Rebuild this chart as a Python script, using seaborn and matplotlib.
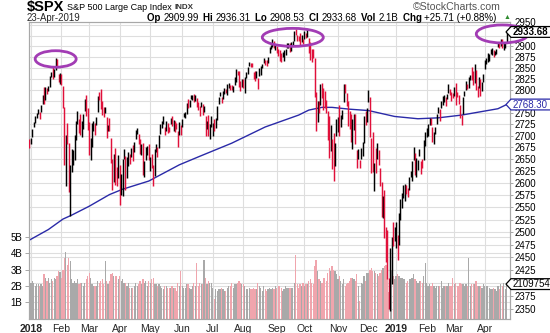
import numpy as np
import pandas as pd
import matplotlib
matplotlib.use("Agg")
import matplotlib.pyplot as plt
import seaborn as sns
from matplotlib.patches import Ellipse, Polygon
from matplotlib.lines import Line2D
from matplotlib.ticker import FixedLocator, NullLocator
import matplotlib.transforms as mtransforms

# ---------------------------------------------------------------- data
# daily sessions 29-Dec-2017 .. 23-Apr-2019, one line per month
closes = [
    2673.61,
    2695.81, 2713.06, 2723.99, 2743.15, 2747.71, 2751.29, 2748.23, 2767.56, 2786.24, 2776.42, 2802.56,
    2798.03, 2810.30, 2832.97, 2839.13, 2837.54, 2839.25, 2872.87, 2853.53, 2822.43, 2823.81,
    2821.98, 2762.13, 2648.94, 2695.14, 2681.66, 2581.00, 2619.55, 2656.00, 2662.94, 2698.63,
    2731.20, 2732.22, 2716.26, 2701.33, 2703.96, 2747.30, 2779.60, 2744.28, 2713.83,
    2677.67, 2691.25, 2720.94, 2728.12, 2726.80, 2738.97, 2786.57, 2783.02, 2765.31, 2749.48, 2747.33,
    2752.01, 2712.92, 2716.94, 2711.93, 2643.69, 2588.26, 2658.55, 2612.62, 2605.00, 2640.87,
    2581.88, 2614.45, 2644.69, 2662.84, 2604.47, 2613.16, 2656.87, 2642.19, 2663.99, 2656.30, 2677.84,
    2706.39, 2708.64, 2693.13, 2670.14, 2670.29, 2634.56, 2639.40, 2666.94, 2669.91, 2648.05,
    2654.80, 2635.67, 2629.73, 2663.42, 2672.63, 2671.92, 2697.79, 2723.07, 2727.72, 2730.13, 2711.45,
    2722.46, 2720.13, 2712.97, 2733.01, 2724.44, 2733.29, 2727.76, 2721.33, 2689.86, 2724.01, 2705.27,
    2734.62, 2746.87, 2748.80, 2772.35, 2770.37, 2779.03, 2782.00, 2786.85, 2775.63, 2782.49, 2779.66,
    2773.75, 2762.59, 2767.32, 2749.76, 2754.88, 2717.07, 2723.06, 2699.63, 2716.31, 2718.37,
    2726.71, 2713.22, 2736.61, 2759.82, 2784.17, 2793.84, 2774.02, 2798.29, 2801.31, 2798.43, 2809.55,
    2815.62, 2804.49, 2801.83, 2806.98, 2820.40, 2846.07, 2837.44, 2818.82, 2802.60, 2816.29,
    2813.36, 2827.22, 2840.35, 2850.40, 2858.45, 2857.70, 2853.58, 2833.28, 2821.93, 2839.96, 2818.37,
    2840.69, 2850.13, 2857.05, 2862.96, 2861.82, 2856.98, 2874.69, 2896.74, 2897.52, 2914.04, 2901.13, 2901.52,
    2896.72, 2888.60, 2878.05, 2871.68, 2877.13, 2887.89, 2888.92, 2904.18, 2904.98, 2888.80,
    2904.31, 2907.95, 2930.75, 2929.67, 2919.37, 2915.56, 2905.97, 2914.00, 2913.98,
    2924.59, 2923.43, 2925.51, 2901.61, 2885.57, 2884.43, 2880.34, 2785.68, 2728.37, 2767.13, 2750.79,
    2809.92, 2809.21, 2768.78, 2767.78, 2755.88, 2740.69, 2656.10, 2705.57, 2658.69, 2641.25, 2682.63, 2711.74,
    2740.37, 2723.06, 2738.31, 2755.45, 2813.89, 2806.83, 2781.01, 2726.22, 2722.18, 2701.58, 2730.20,
    2736.27, 2690.73, 2641.89, 2649.93, 2632.56, 2673.45, 2682.17, 2743.79, 2737.80, 2760.17,
    2790.37, 2700.06, 2695.95, 2633.08, 2637.72, 2636.78, 2651.07, 2650.54, 2599.95, 2545.94,
    2546.16, 2506.96, 2467.42, 2416.62, 2351.10, 2467.70, 2488.83, 2485.74, 2506.85,
    2510.03, 2447.89, 2531.94, 2549.69, 2574.41, 2584.96, 2596.64, 2596.26, 2582.61, 2610.30, 2616.10,
    2635.96, 2670.71, 2632.90, 2638.70, 2642.33, 2664.76, 2643.85, 2640.00, 2681.05, 2704.10,
    2706.53, 2724.87, 2737.70, 2731.61, 2706.05, 2707.88, 2709.80, 2744.73, 2753.03, 2745.73,
    2775.60, 2779.76, 2784.70, 2774.88, 2792.67, 2796.11, 2793.90, 2792.38, 2784.49,
    2803.69, 2792.81, 2789.65, 2771.45, 2748.93, 2743.07, 2783.30, 2791.52, 2810.92, 2808.48, 2822.48,
    2832.94, 2832.57, 2824.23, 2854.88, 2800.71, 2798.36, 2818.46, 2805.37, 2815.44, 2834.40,
    2867.19, 2867.24, 2873.40, 2879.39, 2892.74, 2895.77, 2878.20, 2888.21, 2888.32, 2907.41,
    2905.58, 2907.06, 2900.45, 2905.03, 2907.97, 2933.68,
]

highs = [
    2692.12,
    2695.89, 2714.37, 2729.29, 2743.45, 2748.51, 2759.14, 2750.80, 2767.56, 2789.81, 2807.54, 2807.04,
    2805.83, 2810.33, 2833.03, 2842.24, 2852.97, 2848.56, 2872.87, 2870.62, 2837.75, 2839.26,
    2835.96, 2808.92, 2763.39, 2701.04, 2727.67, 2685.27, 2638.67, 2672.61, 2668.84, 2702.10,
    2731.51, 2754.42, 2737.08, 2747.75, 2731.26, 2747.76, 2780.64, 2789.15, 2761.52,
    2730.89, 2696.25, 2728.09, 2732.08, 2727.92, 2740.45, 2786.57, 2796.98, 2801.90, 2777.11, 2763.03,
    2761.85, 2741.38, 2724.22, 2739.14, 2695.68, 2650.88, 2661.36, 2674.78, 2632.65, 2659.07,
    2638.30, 2619.14, 2649.86, 2672.08, 2656.88, 2653.55, 2665.45, 2661.43, 2674.72, 2680.26, 2686.49,
    2713.34, 2717.49, 2702.84, 2693.94, 2682.86, 2683.55, 2645.30, 2676.48, 2677.35, 2682.92,
    2655.27, 2660.87, 2637.14, 2670.93, 2683.35, 2676.34, 2701.27, 2726.11, 2732.86, 2742.10, 2718.59,
    2731.96, 2728.09, 2719.50, 2739.19, 2742.24, 2733.33, 2731.97, 2727.36, 2710.67, 2729.34, 2722.50,
    2736.93, 2749.16, 2752.61, 2772.39, 2779.90, 2779.39, 2790.21, 2789.80, 2791.47, 2789.06, 2782.81,
    2774.99, 2765.05, 2774.86, 2769.28, 2764.17, 2742.94, 2732.91, 2746.09, 2725.90, 2743.26,
    2727.26, 2736.58, 2737.83, 2764.41, 2784.65, 2795.58, 2785.91, 2799.22, 2804.53, 2803.71, 2814.19,
    2816.76, 2812.05, 2810.85, 2808.61, 2829.99, 2848.03, 2842.43, 2843.17, 2821.74, 2824.46,
    2825.83, 2829.91, 2840.38, 2853.29, 2863.43, 2862.48, 2862.44, 2842.20, 2843.40, 2843.11, 2827.95,
    2850.49, 2855.63, 2859.76, 2873.23, 2867.54, 2868.78, 2876.16, 2898.25, 2903.77, 2916.50, 2912.46, 2906.32,
    2900.18, 2894.21, 2892.52, 2883.81, 2886.93, 2892.11, 2894.65, 2906.76, 2908.30, 2908.86,
    2911.17, 2912.36, 2934.80, 2940.91, 2926.05, 2923.79, 2931.15, 2927.22, 2916.54,
    2937.06, 2931.42, 2939.86, 2919.78, 2909.64, 2894.83, 2894.70, 2874.02, 2795.14, 2775.77, 2775.99,
    2813.46, 2816.94, 2806.04, 2797.77, 2778.94, 2753.59, 2742.59, 2722.70, 2692.38, 2706.85, 2685.43, 2736.69,
    2741.67, 2766.28, 2744.27, 2756.82, 2815.15, 2814.75, 2794.10, 2775.99, 2754.60, 2746.80, 2735.38,
    2746.75, 2746.66, 2669.44, 2670.73, 2647.55, 2674.35, 2685.75, 2744.00, 2753.75, 2760.88,
    2800.18, 2785.93, 2696.15, 2708.54, 2641.59, 2674.35, 2685.44, 2670.19, 2630.86, 2601.13,
    2573.99, 2585.29, 2509.63, 2504.41, 2410.34, 2467.76, 2489.10, 2520.27, 2509.24,
    2519.49, 2493.14, 2538.07, 2566.16, 2579.82, 2595.32, 2597.82, 2596.27, 2589.32, 2613.08, 2625.76,
    2645.06, 2675.47, 2662.88, 2653.19, 2647.20, 2672.38, 2645.19, 2650.93, 2690.44, 2708.95,
    2716.66, 2724.99, 2738.98, 2738.08, 2719.32, 2708.07, 2718.05, 2748.19, 2761.85, 2757.90,
    2775.66, 2787.33, 2789.88, 2785.69, 2792.72, 2813.49, 2803.12, 2795.82, 2793.73,
    2808.02, 2816.88, 2795.76, 2790.28, 2767.66, 2744.13, 2785.00, 2798.32, 2821.24, 2815.00, 2830.73,
    2835.41, 2852.42, 2843.54, 2860.31, 2846.16, 2809.79, 2829.87, 2825.96, 2819.71, 2836.03,
    2869.40, 2872.90, 2885.25, 2881.28, 2893.24, 2895.95, 2892.66, 2889.71, 2893.42, 2910.54,
    2909.60, 2916.06, 2918.00, 2908.40, 2909.51, 2936.31,
]

lows = [
    2673.61,
    2682.36, 2697.77, 2719.07, 2727.92, 2737.60, 2747.86, 2736.06, 2752.78, 2769.64, 2768.64, 2778.38,
    2792.56, 2798.08, 2808.12, 2830.59, 2824.81, 2830.94, 2846.18, 2851.48, 2818.27, 2813.04,
    2812.70, 2759.97, 2638.17, 2593.07, 2681.33, 2580.56, 2532.69, 2622.45, 2637.08, 2648.87,
    2689.82, 2725.11, 2706.76, 2701.29, 2697.77, 2713.74, 2753.78, 2742.10, 2713.54,
    2659.65, 2647.32, 2675.75, 2711.26, 2701.02, 2722.65, 2751.54, 2779.26, 2758.68, 2744.38, 2741.47,
    2749.97, 2694.59, 2710.05, 2709.79, 2641.59, 2585.89, 2601.81, 2596.12, 2593.06, 2609.72,
    2553.80, 2575.49, 2573.61, 2649.58, 2586.27, 2610.79, 2635.78, 2639.25, 2653.83, 2645.05, 2665.16,
    2692.05, 2703.63, 2681.90, 2660.61, 2657.99, 2617.32, 2612.67, 2647.16, 2659.01, 2648.04,
    2625.41, 2631.70, 2594.62, 2615.32, 2664.70, 2655.20, 2674.14, 2704.54, 2717.45, 2725.47, 2701.91,
    2711.36, 2705.27, 2709.18, 2725.70, 2721.88, 2709.54, 2707.38, 2714.99, 2676.81, 2702.47, 2700.68,
    2718.70, 2740.54, 2739.51, 2748.46, 2760.16, 2763.59, 2780.17, 2778.78, 2774.65, 2776.52, 2761.73,
    2757.12, 2743.19, 2763.91, 2744.39, 2752.68, 2698.67, 2715.60, 2699.38, 2692.03, 2718.03,
    2698.95, 2711.16, 2716.02, 2733.52, 2768.51, 2786.24, 2770.77, 2781.53, 2791.69, 2793.39, 2789.24,
    2805.89, 2799.77, 2800.16, 2795.14, 2811.12, 2817.73, 2835.26, 2808.34, 2798.11, 2808.06,
    2805.85, 2792.84, 2827.37, 2835.98, 2855.92, 2853.09, 2852.73, 2825.81, 2819.88, 2826.58, 2802.49,
    2831.44, 2833.73, 2850.62, 2861.32, 2856.05, 2854.03, 2862.35, 2884.69, 2893.50, 2898.40, 2895.22, 2891.73,
    2885.13, 2876.92, 2867.29, 2864.12, 2875.94, 2866.78, 2879.20, 2896.39, 2895.77, 2886.15,
    2890.43, 2903.82, 2912.63, 2927.11, 2912.31, 2913.42, 2903.28, 2909.27, 2905.10,
    2917.91, 2919.37, 2921.36, 2883.92, 2869.29, 2862.99, 2874.27, 2784.86, 2710.51, 2729.44, 2749.03,
    2766.91, 2781.81, 2755.18, 2760.27, 2749.22, 2691.43, 2651.89, 2667.84, 2628.16, 2603.54, 2635.34, 2699.98,
    2708.85, 2699.96, 2717.94, 2737.08, 2774.88, 2794.99, 2764.24, 2722.00, 2714.98, 2685.75, 2670.75,
    2712.16, 2681.45, 2631.52, 2649.82, 2631.09, 2649.97, 2655.89, 2684.38, 2722.94, 2730.05,
    2773.38, 2697.18, 2621.53, 2623.14, 2583.23, 2621.30, 2650.26, 2637.27, 2593.84, 2530.54,
    2528.71, 2488.96, 2441.18, 2408.55, 2351.10, 2346.58, 2397.94, 2472.89, 2482.82,
    2467.47, 2443.96, 2474.33, 2524.56, 2547.56, 2568.89, 2562.02, 2577.40, 2570.41, 2585.10, 2612.68,
    2603.46, 2647.58, 2617.27, 2612.86, 2627.01, 2657.33, 2618.48, 2631.05, 2648.34, 2678.65,
    2696.88, 2698.75, 2724.03, 2724.15, 2687.26, 2681.83, 2703.79, 2724.98, 2748.63, 2731.23,
    2760.24, 2767.29, 2774.06, 2764.56, 2780.30, 2794.99, 2789.47, 2775.13, 2782.51,
    2787.38, 2767.66, 2785.22, 2768.69, 2739.09, 2722.27, 2747.68, 2786.73, 2799.78, 2803.46, 2803.99,
    2821.99, 2823.27, 2812.43, 2817.38, 2800.47, 2785.02, 2803.99, 2787.72, 2798.77, 2819.23,
    2848.63, 2858.75, 2865.17, 2867.14, 2882.99, 2880.78, 2874.63, 2879.13, 2881.99, 2898.37,
    2896.48, 2900.71, 2895.45, 2891.90, 2896.35, 2908.53,
]

# volume in billions of shares
volumes = [
    1.30,
    2.20, 2.30, 2.20, 2.00, 2.10, 2.10, 2.00, 2.10, 2.00, 2.70, 2.50,
    2.30, 2.50, 2.20, 2.40, 2.30, 2.50, 2.40, 2.60, 2.90, 2.85,
    2.50, 3.00, 3.70, 4.05, 3.30, 3.70, 3.50, 2.40, 2.20, 2.30,
    2.20, 2.40, 2.10, 2.20, 2.20, 2.00, 2.20, 2.40, 2.60,
    2.80, 2.50, 2.10, 2.00, 2.00, 2.00, 2.30, 2.20, 2.30, 2.40, 2.10,
    3.50, 2.30, 2.10, 2.30, 2.70, 2.80, 2.60, 2.60, 2.60, 2.40,
    2.60, 2.30, 2.40, 2.20, 2.20, 2.00, 2.20, 1.90, 1.90, 1.90, 2.00,
    2.20, 2.00, 2.10, 2.30, 2.10, 2.40, 2.20, 2.30, 2.00, 2.30,
    2.20, 2.40, 2.50, 2.10, 2.10, 2.00, 2.10, 2.00, 1.90, 1.80, 2.00,
    2.00, 1.90, 1.90, 1.90, 2.00, 1.90, 1.90, 1.70, 2.20, 2.00, 2.90,
    2.00, 1.90, 1.90, 2.10, 2.10, 1.90, 1.80, 2.00, 2.20, 2.00, 3.40,
    2.00, 2.20, 2.10, 2.10, 3.60, 2.50, 2.10, 2.30, 2.20, 2.20,
    1.90, 1.20, 1.80, 1.70, 1.80, 1.80, 1.90, 1.80, 1.70, 1.70, 1.90,
    2.00, 2.00, 2.20, 1.90, 2.10, 2.10, 2.20, 2.30, 2.20, 2.10,
    2.10, 2.00, 1.80, 1.80, 1.90, 1.80, 1.80, 1.90, 1.80, 1.80, 2.20,
    2.00, 1.90, 1.70, 2.00, 1.80, 1.70, 1.80, 1.90, 1.80, 1.90, 1.80, 2.00,
    1.90, 2.00, 2.00, 1.90, 1.70, 1.80, 2.00, 1.90, 1.90, 1.90,
    1.90, 1.90, 2.20, 3.90, 2.10, 1.90, 2.10, 2.00, 2.20,
    2.00, 2.10, 2.10, 2.30, 2.40, 2.20, 2.10, 3.20, 3.60, 2.90, 2.40,
    2.30, 2.20, 2.50, 2.50, 2.30, 2.80, 3.10, 2.90, 3.20, 3.00, 2.90, 2.70,
    2.40, 2.60, 2.30, 2.10, 2.40, 2.00, 2.10, 2.20, 2.30, 2.50, 2.50,
    2.40, 2.30, 2.70, 2.00, 1.10, 2.20, 2.10, 2.60, 2.30, 2.80,
    2.80, 3.00, 3.10, 2.90, 2.90, 2.80, 2.70, 2.60, 2.80, 3.00,
    3.10, 3.20, 3.30, 3.40, 1.60, 2.90, 3.00, 2.60, 2.40,
    2.60, 2.70, 2.60, 2.50, 2.50, 2.40, 2.40, 2.20, 2.30, 2.40, 2.40,
    2.50, 2.70, 2.40, 2.30, 2.20, 2.30, 2.30, 2.20, 2.60, 3.40,
    2.20, 2.00, 2.10, 2.00, 2.20, 2.00, 1.90, 2.00, 2.00, 2.00,
    2.30, 1.90, 2.00, 2.00, 2.00, 2.20, 2.00, 2.00, 2.50,
    2.10, 2.20, 2.00, 2.00, 2.20, 2.10, 2.10, 2.00, 2.10, 2.00, 3.70,
    2.00, 2.10, 2.10, 2.10, 2.30, 2.00, 2.00, 2.00, 1.90, 2.10,
    2.00, 2.00, 2.00, 1.90, 1.80, 1.80, 1.90, 1.80, 1.70, 2.00,
    1.80, 2.10, 2.00, 2.20, 1.80, 2.109754,
]

close_before_first = 2687.54     # 28-Dec-2017 close
last_open = 2909.99

# 200-day simple moving average readings
ma_dates = ["2017-12-29", "2018-01-19", "2018-02-02", "2018-02-12", "2018-03-01", "2018-03-21",
            "2018-04-04", "2018-04-30", "2018-05-30", "2018-06-19", "2018-07-20", "2018-08-22",
            "2018-09-25", "2018-10-04", "2018-10-17", "2018-10-26", "2018-11-13", "2018-12-03",
            "2018-12-31", "2019-01-24", "2019-02-13", "2019-03-08", "2019-04-12", "2019-04-23"]
ma_values = [2484, 2505, 2526, 2534, 2552, 2576, 2587, 2604, 2638, 2656, 2684, 2719,
             2745, 2756, 2762, 2762, 2758, 2755, 2742, 2737, 2739, 2745, 2759, 2768.30]

month_labels = ["2018", "Feb", "Mar", "Apr", "May", "Jun", "Jul", "Aug", "Sep", "Oct", "Nov",
                "Dec", "2019", "Feb", "Mar", "Apr"]
price_ticks = list(range(2350, 2951, 25))
volume_ticks = [1, 2, 3, 4, 5]

exchange_holidays = ["2018-01-01", "2018-01-15", "2018-02-19", "2018-03-30", "2018-05-28",
                     "2018-07-04", "2018-09-03", "2018-11-22", "2018-12-05", "2018-12-25",
                     "2019-01-01", "2019-01-21", "2019-02-18", "2019-04-19"]

# ---------------------------------------------------------------- frame
sessions = pd.bdate_range("2017-12-29", "2019-04-23")
sessions = sessions[~sessions.isin(pd.to_datetime(exchange_holidays))]
n = len(sessions)
for name, arr in [("closes", closes), ("highs", highs), ("lows", lows), ("volumes", volumes)]:
    if len(arr) != n:
        raise SystemExit(f"{name}: {len(arr)} values for {n} sessions")

df = pd.DataFrame({"date": sessions, "high": highs, "low": lows,
                   "close": closes, "volume": volumes})
df["i"] = np.arange(n)
prev = df["close"].shift(1).fillna(close_before_first)
df["up"] = df["close"] >= prev

ma = pd.DataFrame({"date": pd.to_datetime(ma_dates), "sma": ma_values})
ma["i"] = sessions.get_indexer(ma["date"])

# first session of each labelled month (2018-01 onwards)
in_range = df[df.date >= "2018-01-01"]
month_start = in_range.groupby([in_range.date.dt.year, in_range.date.dt.month])["i"].min().values

# ---------------------------------------------------------------- style
sns.set_style("white")
plt.rcParams["font.family"] = ["Liberation Sans", "DejaVu Sans"]

W, H = 550, 333
fig = plt.figure(figsize=(W / 100, H / 100), dpi=100)
fig.patch.set_facecolor("white")

left_px, right_px, top_px, bot_px = 28.6, 510.0, 22.0, 318.5
ax_v = fig.add_axes([left_px / W, 1 - bot_px / H, (right_px - left_px) / W, (bot_px - top_px) / H])
ax_p = ax_v.twinx()

RED = "#e0103a"
BLUE = "#2a2aa8"
GRID = "#dedede"
VOL_UP = "#a9a9a9"
VOL_DN = "#f0a5ad"

ax_v.set_xlim(-0.6, 330.3)
ax_v.set_ylim(0, (bot_px - top_px) / 16.3)
ax_p.set_yscale("log")
ax_p.set_ylim(2333.0, 2957.1)


def px(x, y):
    return x / W, 1 - y / H


def price_px_y(price):
    return H - ax_p.transData.transform((0, price))[1]


def vol_px_y(v):
    return H - ax_v.transData.transform((0, v))[1]


# grid: months, price steps and volume steps
for m in month_start:
    ax_v.axvline(m, color=GRID, lw=0.8, zorder=0)
blend = mtransforms.blended_transform_factory(ax_v.transAxes, ax_p.transData)
for lvl in price_ticks:
    ax_v.add_line(Line2D([0, 1], [lvl, lvl], transform=blend, color=GRID, lw=0.8, zorder=0))
for v in volume_ticks:
    ax_v.axhline(v, color=GRID, lw=0.8, zorder=0)

# volume histogram
ax_v.bar(df["i"], df["volume"], width=0.85, color=np.where(df["up"], VOL_UP, VOL_DN),
         linewidth=0, zorder=1)

# daily high-low bars
ax_p.vlines(df["i"], df["low"], df["high"], colors=np.where(df["up"], "black", RED),
            linewidth=1.05, zorder=3)

# moving average
sns.lineplot(data=ma, x="i", y="sma", ax=ax_p, color=BLUE, linewidth=1.0, zorder=2)

last = df.iloc[-1]
tags = [(price_px_y(last["close"]), f"{last['close']:.2f}", "black", True),
        (price_px_y(ma["sma"].iloc[-1]), f"{ma['sma'].iloc[-1]:.2f}", BLUE, False),
        (vol_px_y(last["volume"]), f"{last['volume'] * 1e6:.0f}", "black", False)]

# axes decoration; labels sitting under a value tag are left blank
tag_rows = [t[0] for t in tags]
price_labels = [("" if any(abs(price_px_y(t) - r) < 6.5 for r in tag_rows) else str(t))
                for t in price_ticks]
ax_p.yaxis.set_major_locator(FixedLocator(price_ticks))
ax_p.yaxis.set_minor_locator(NullLocator())
ax_p.set_yticklabels(price_labels)
ax_p.tick_params(axis="y", which="major", length=2, width=0.6, colors="#999999",
                 labelcolor="black", labelsize=7, pad=1.5)
# the top label sits just above the close tag
lift = mtransforms.ScaledTranslation(0, 2.2 / 72, fig.dpi_scale_trans)
for tk in ax_p.yaxis.get_major_ticks():
    if abs(tk.get_loc() - price_ticks[-1]) < 1e-6:
        tk.label2.set_transform(tk.label2.get_transform() + lift)

ax_v.set_yticks(volume_ticks)
ax_v.set_yticklabels([f"{v}B" for v in volume_ticks])
ax_v.tick_params(axis="y", length=3, width=0.6, colors="#999999", labelcolor="black",
                 labelsize=7, pad=1.5, left=True)
ax_v.set_xticks(month_start)
ax_v.set_xticklabels(month_labels)
ax_v.tick_params(axis="x", length=0, labelsize=7.5, pad=4)
for lab in ax_v.get_xticklabels():
    if lab.get_text().isdigit():
        lab.set_fontweight("bold")
ax_v.set_xlabel("")
ax_p.set_xlabel("")
ax_p.set_ylabel("")
ax_v.set_ylabel("")
for ax in (ax_v, ax_p):
    for s in ax.spines.values():
        s.set_color("#a8a8a8")
        s.set_linewidth(0.8)

# ---------------------------------------------------------------- annotations
fig.canvas.draw()
to_fig = fig.transFigure.inverted()
renderer = fig.canvas.get_renderer()

PURPLE = "#a23cb4"
circles = [("2018-01-26", 2871, 41, 16.5), ("2018-09-19", 2921, 61, 18), ("2019-04-17", 2929, 52, 18)]
for d, p, w, h in circles:
    i = sessions.get_loc(pd.Timestamp(d))
    cx, cy = ax_p.transData.transform((i, p))
    fx, fy = to_fig.transform((cx, cy))
    fig.add_artist(Ellipse((fx, fy), w / W, h / H, transform=fig.transFigure, fill=False,
                           ec=PURPLE, lw=2.0, zorder=5))


def tag(y, text, color, bold=False):
    tip, x0, x1, hh = 506.0, 511.0, 551.0, 5.4
    pts = [px(tip, y), px(x0, y - hh), px(x1, y - hh), px(x1, y + hh), px(x0, y + hh)]
    fig.add_artist(Polygon(pts, closed=True, transform=fig.transFigure, fc="white",
                           ec=color, lw=0.9, zorder=6))
    fig.text(*px(512.5, y), text, color=color, fontsize=7, va="center", ha="left",
             fontweight="bold" if bold else "normal", zorder=7)


for y, text, color, bold in tags:
    tag(y, text, color, bold)


def run(x, y, pieces):
    """Write text pieces one after another on a row, returning the end position."""
    for txt, size, weight, color, gap in pieces:
        t = fig.text(*px(x, y), txt, fontsize=size, fontweight=weight, color=color,
                     va="center", ha="left")
        x += t.get_window_extent(renderer).width + gap
    return x


# header, first row
run(27, 7.5, [("$SPX", 10.5, "bold", "black", 3),
              ("S&P 500 Large Cap Index", 6.5, "normal", "black", 2.5),
              ("INDX", 5.8, "bold", "#333333", 0)])
fig.text(*px(501, 7.5), "\u00a9StockCharts.com", fontsize=7.6, va="center", ha="right",
         color="#555555")

# header, second row
fig.text(*px(27, 18), last["date"].strftime("%d-%b-%Y"), fontsize=6.9, va="center", ha="left")
chg = last["close"] - prev.iloc[-1]
pct = chg / prev.iloc[-1] * 100
row = []
for label, value in [("Op", f"{last_open:.2f}"), ("Hi", f"{last['high']:.2f}"),
                     ("Lo", f"{last['low']:.2f}"), ("Cl", f"{last['close']:.2f}"),
                     ("Vol", f"{last['volume']:.1f}B"), ("Chg", f"{chg:+.2f} ({pct:+.2f}%)")]:
    row.append((label + " ", 7.0, "bold", "black", 0))
    row.append((value, 7.0, "normal", "black", 4.5))
end = run(147, 18, row)
fig.text(*px(end + 2, 17.3), "\u25b2", fontsize=5.0, color="#2e8b2e", va="center", ha="left")

fig.savefig("out.png", dpi=100, facecolor="white")
